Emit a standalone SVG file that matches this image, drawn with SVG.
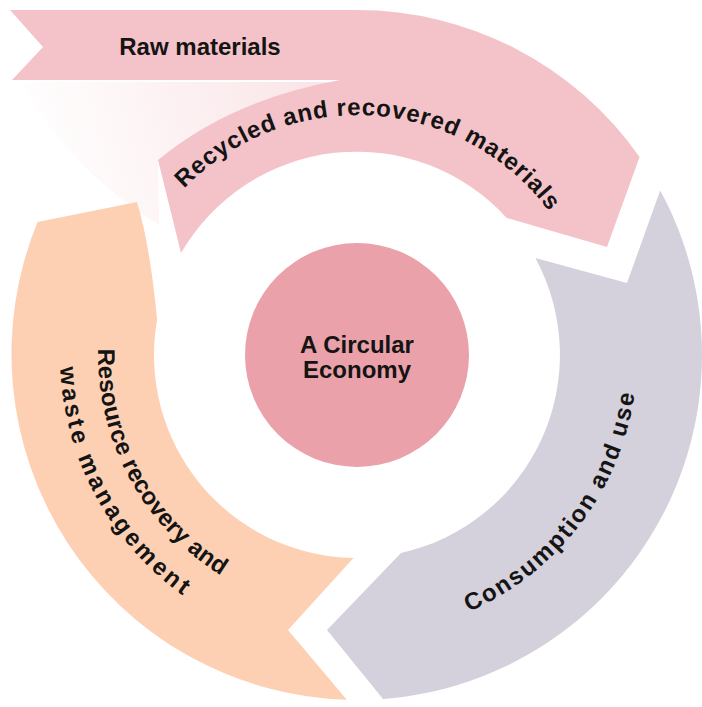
<svg xmlns="http://www.w3.org/2000/svg" width="702" height="707" viewBox="0 0 702 707">
  <defs>
    <style>
      .lbl { font-family: "Liberation Sans", Arial, sans-serif; font-weight: bold; fill: #141414; font-size: 24px; }
      .pink { fill: #f4c3c9; }
      .gray { fill: #d4d0dc; }
      .peach { fill: #fdd0b4; }
      .core { fill: #eaa1a9; }
    </style>
    <linearGradient id="fade" x1="330" y1="90" x2="30" y2="170" gradientUnits="userSpaceOnUse">
      <stop offset="0" stop-color="#f4c3c9" stop-opacity="0.45"/>
      <stop offset="1" stop-color="#f4c3c9" stop-opacity="0"/>
    </linearGradient>
    <path id="pRecycled" d="M 123.8,298.4 A 240 240 0 0 1 595.5,328.5"/>
    <path id="pConsume" d="M 229.7,604.4 A 280 280 0 0 0 562,164.2"/>
    <path id="pRes1" d="M 195.8,152.3 A 259 259 0 0 0 439.2,600.6"/>
    <path id="pRes2" d="M 172.1,122.6 A 297 297 0 0 0 451.2,636.7"/>
  </defs>
  <rect width="702" height="707" fill="#ffffff"/>

  <g id="node-raw-materials">
    <path d="M 20,82 L 340,82 Q 230,100 158,160 L 159,225 Q 70,170 20,82 Z" fill="url(#fade)"/>
    <path class="pink" d="M 10,10 L 357,10 A 345 345 0 0 1 639.6,157.1 L 607,247 L 506.7,217.9 A 203 203 0 0 0 181,253 L 158,160 Q 230,100 340,80 L 12,80 L 43,47 Z"/>
    <text class="lbl" x="200" y="55" text-anchor="middle" font-size="25">Raw materials</text>
  </g>

  <g id="node-recycled">
    <text class="lbl" letter-spacing="0.87"><textPath href="#pRecycled" startOffset="50%" text-anchor="middle">Recycled and recovered materials</textPath></text>
  </g>

  <g id="node-consumption">
    <path class="gray" d="M 660.2,190.4 A 345 345 0 0 1 383,699 L 327,630 L 401,553 A 203 203 0 0 0 535.4,258.1 L 627,283 Z"/>
    <text class="lbl" letter-spacing="1.9"><textPath href="#pConsume" startOffset="50%" text-anchor="middle">Consumption and use</textPath></text>
  </g>

  <g id="node-resource">
    <path class="peach" d="M 346.8,699.8 A 346 346 0 0 1 37.6,222 L 137,202 Q 150,245 157.1,319.7 A 203 203 0 0 0 353.5,558 L 288,630 Z"/>
    <text class="lbl" letter-spacing="0.2"><textPath href="#pRes1" startOffset="50%" text-anchor="middle">Resource recovery and</textPath></text>
    <text class="lbl" letter-spacing="3.1"><textPath href="#pRes2" startOffset="50%" text-anchor="middle">waste management</textPath></text>
  </g>

  <g id="node-center">
    <circle class="core" cx="357" cy="355" r="112"/>
    <text class="lbl" x="357" y="353" text-anchor="middle">A Circular</text>
    <text class="lbl" x="357" y="378" text-anchor="middle">Economy</text>
  </g>

  <g id="connectors"/>
</svg>
